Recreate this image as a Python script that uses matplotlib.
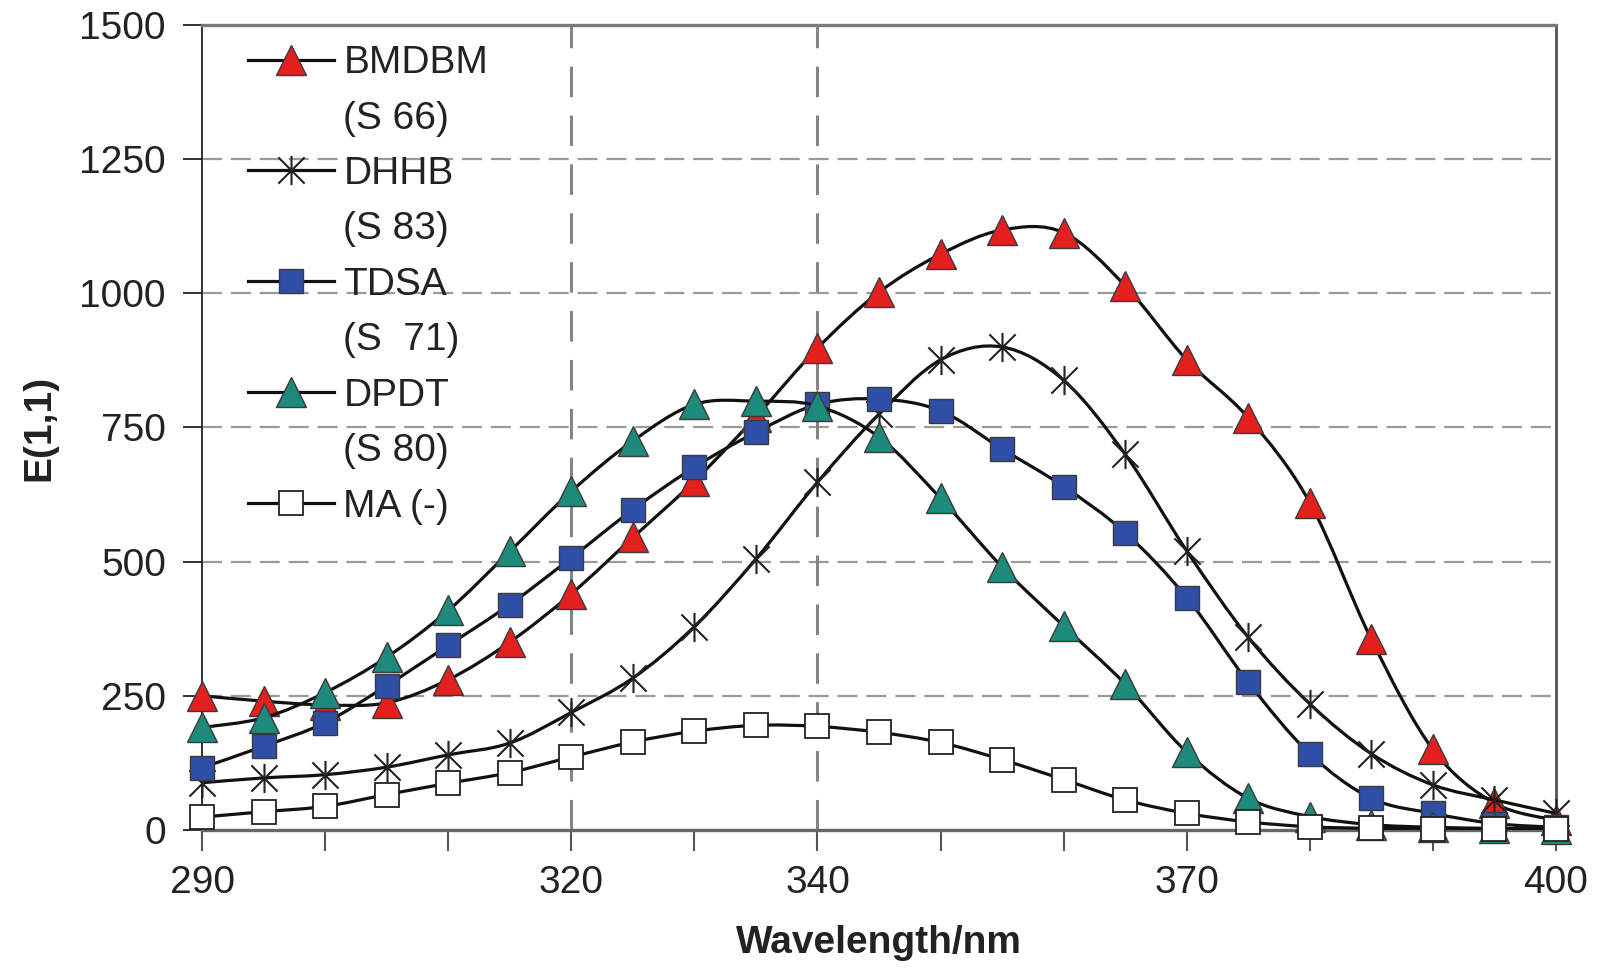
import numpy as np
import matplotlib
matplotlib.use('Agg')
from matplotlib import pyplot as plt
from matplotlib.path import Path
from matplotlib.patches import PathPatch
from matplotlib.lines import Line2D

plt.rcParams['font.family'] = ['Liberation Sans', 'DejaVu Sans']

wavelength = [290, 295, 300, 305, 310, 315, 320, 325, 330, 335, 340, 345,
              350, 355, 360, 365, 370, 375, 380, 385, 390, 395, 400]

bmdbm = [250, 240, 233, 237, 280, 350, 440, 545, 650, 770, 898, 1002,
         1073, 1118, 1113, 1014, 876, 768, 610, 355, 150, 50, 18]
dhhb = [88, 97, 103, 117, 140, 162, 219, 283, 379, 505, 648, 775,
        876, 900, 838, 700, 520, 359, 235, 142, 84, 56, 31]
tdsa = [116, 156, 200, 269, 344, 420, 507, 597, 676, 741, 793, 803,
        781, 710, 640, 554, 433, 275, 142, 59, 31, 12, 5]
dpdt = [191, 209, 256, 322, 409, 519, 631, 725, 793, 799, 790, 732,
        618, 490, 380, 272, 145, 59, 25, 10, 5, 3, 2]
ma = [24, 34, 44, 66, 87, 107, 136, 164, 184, 195, 193, 182,
      163, 131, 94, 56, 31, 15, 6, 3, 2, 1, 1]

names = ['BMDBM', 'DHHB', 'TDSA', 'DPDT', 'MA (-)']
subnames = ['(S 66)', '(S 83)', '(S  71)', '(S 80)', None]

x_ticks = [290, 300, 310, 320, 330, 340, 350, 360, 370, 380, 390, 400]
x_labeled = [290, 320, 340, 370, 400]
y_ticks = [0, 250, 500, 750, 1000, 1250, 1500]

# asterisk marker: vertical bar plus an X
STAR = Path([(0, -1), (0, 1), (-0.9, -0.9), (0.9, 0.9), (-0.9, 0.9), (0.9, -0.9)],
            [Path.MOVETO, Path.LINETO, Path.MOVETO, Path.LINETO, Path.MOVETO, Path.LINETO])

STYLES = [
    dict(marker='^', markersize=21.5, markerfacecolor='#E3201E', markeredgecolor='#3a3a3a', markeredgewidth=1.0),
    dict(marker=STAR, markersize=21, markerfacecolor='none', markeredgecolor='#222222', markeredgewidth=1.5),
    dict(marker='s', markersize=17.5, markerfacecolor='#2F4FA6', markeredgecolor='#3a3a3a', markeredgewidth=1.0),
    dict(marker='^', markersize=21.5, markerfacecolor='#1E8A7C', markeredgecolor='#3a3a3a', markeredgewidth=1.0),
    dict(marker='s', markersize=17.5, markerfacecolor='white', markeredgecolor='#222222', markeredgewidth=1.3),
]


def smooth_path(x, y):
    # smoothed connecting line, like a spreadsheet "smoothed line" series
    pts = np.column_stack([x, y]).astype(float)
    n = len(pts)
    verts = [pts[0]]
    codes = [Path.MOVETO]
    for i in range(n - 1):
        p0 = pts[max(i - 1, 0)]
        p1 = pts[i]
        p2 = pts[i + 1]
        p3 = pts[min(i + 2, n - 1)]
        verts += [p1 + (p2 - p0) / 6.0, p2 - (p3 - p1) / 6.0, p2]
        codes += [Path.CURVE4] * 3
    return Path(verts, codes)


fig = plt.figure(figsize=(16.01, 9.73), dpi=100)
ax = fig.add_axes([0.1262, 0.147, 0.8457, 0.8273])

for v in [250, 500, 750, 1000, 1250]:
    ax.axhline(v, color='#9a9a9a', linewidth=1.6, linestyle=(0, (9, 4)), zorder=1)
for v in [320, 340]:
    ax.axvline(v, color='#858585', linewidth=2.2, linestyle=(0, (10, 6)), zorder=1)

series = [bmdbm, dhhb, tdsa, dpdt, ma]
handles = []
labels = []
for i, vals in enumerate(series):
    z = 3 + 2 * i
    ax.add_patch(PathPatch(smooth_path(wavelength, vals), facecolor='none',
                           edgecolor='#111111', linewidth=2.3, zorder=z))
    ax.plot(wavelength, vals, linestyle='none', clip_on=False, zorder=z + 1, **STYLES[i])
    handles.append(Line2D([], [], color='#111111', linewidth=2.3, **STYLES[i]))
    labels.append(names[i])
    if subnames[i] is not None:
        handles.append(Line2D([], [], linestyle='none', marker='none'))
        labels.append(subnames[i])

ax.set_xlim(290, 400)
ax.set_ylim(0, 1500)
ax.set_xticks(x_ticks)
ax.set_xticklabels([str(t) if t in x_labeled else '' for t in x_ticks])
ax.set_yticks(y_ticks)
ax.tick_params(axis='both', direction='out', labelsize=28, colors='#222222')
ax.tick_params(axis='x', length=15, width=1.5, pad=10, color='#555555')
ax.tick_params(axis='y', length=14, width=1.3, pad=12)

ax.spines['left'].set_color('#222222')
ax.spines['left'].set_linewidth(1.3)
ax.spines['bottom'].set_color('#666666')
ax.spines['bottom'].set_linewidth(2.4)
ax.spines['top'].set_color('#7a7a7a')
ax.spines['top'].set_linewidth(2.4)
ax.spines['right'].set_color('#555555')
ax.spines['right'].set_linewidth(2.0)

ax.set_xlabel('Wavelength/nm', fontsize=28, fontweight='bold', color='#222222')
ax.set_ylabel('E(1,1)', fontsize=28, fontweight='bold', color='#222222')
ax.xaxis.set_label_coords(0.5, -0.118)
ax.yaxis.set_label_coords(-0.107, 0.5)

leg = ax.legend(handles, labels, loc='upper left', bbox_to_anchor=(0.034, 0.975),
                frameon=False, fontsize=28, numpoints=1, handlelength=2.2,
                handletextpad=0.25, labelspacing=0.5, borderpad=0, borderaxespad=0)
for t in leg.get_texts():
    t.set_color('#222222')
leg.set_zorder(20)

plt.savefig('out.png', dpi=100)
